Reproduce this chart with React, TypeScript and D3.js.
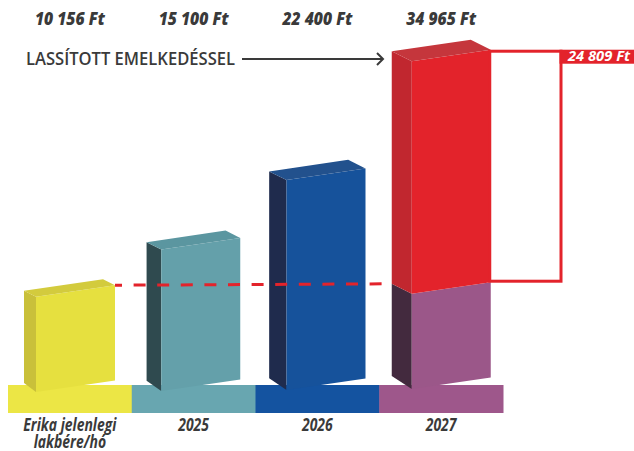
import React from "react";
import * as d3 from "d3";

const categoryKeys = ["current", "2025", "2026", "2027"];
const categoryLines = [["Erika jelenlegi", "lakbére/hó"], ["2025"], ["2026"], ["2027"]];
const values = [10156, 15100, 22400, 34965];
const valueLabels = ["10 156 Ft", "15 100 Ft", "22 400 Ft", "34 965 Ft"];
const increaseValue = 24809;
const increaseLabel = "24 809 Ft";
const annotation = "LASSÍTOTT EMELKEDÉSSEL";

const frontColors = ["#e6e03f", "#64a0aa", "#16529b", "#e3232b"];
const sideColors = ["#c9c03a", "#2f4a4f", "#1f2b4d", "#c1272f"];
const topColors = ["#d3cb3d", "#5b96a0", "#22518d", "#c5363c"];
const bandColors = ["#ece645", "#68a6b0", "#1453a0", "#9e578b"];
const baseFront = "#9b5789";
const baseSide = "#432a3e";
const red = "#e3232b";
const textColor = "#3a3a3a";

const W = 634;
const H = 451;

export default function App() {
  const x = d3.scaleBand<string>().domain(categoryKeys).range([8, 503]).padding(0);
  const h = d3.scaleLinear().domain([0, 35000]).range([0, 328]);
  const frontW = 79;
  const slope = -0.147;
  const bandTop = 385;
  const bandBottom = 413;

  const bars = values.map((v, i) => {
    const x0 = (x(categoryKeys[i]) as number) + 28 + i * 1.5;
    const yBL = 392 - i;
    const yBR = yBL + slope * frontW;
    const hv = h(v);
    const dx = 12 + (i * 8) / 3;
    const dy = 6 + (i * 4) / 3;
    const dyb = dy + 3;
    return { x0, yBL, yBR, hv, dx, dy, dyb, i };
  });

  const pts = (a: number[][]) => a.map((p) => p.join(",")).join(" ");

  const drawBar = (b: any) => {
    const { x0, yBL, yBR, hv, dx, dy, dyb, i } = b;
    const x1 = x0 + frontW;
    const yTL = yBL - hv;
    const yTR = yBR - hv;
    const els: any[] = [];
    if (i === 3) {
      const hb = h(values[0]);
      const mL = yBL - hb;
      const mR = yBR - hb;
      els.push(<polygon key="sb" points={pts([[x0, mL], [x0 - dx, mL - dy], [x0 - dx, yBL - dyb], [x0, yBL]])} fill={baseSide} />);
      els.push(<polygon key="fb" points={pts([[x0, mL], [x1, mR], [x1, yBR], [x0, yBL]])} fill={baseFront} />);
      els.push(<polygon key="su" points={pts([[x0, yTL], [x0 - dx, yTL - dy], [x0 - dx, mL - dy], [x0, mL]])} fill={sideColors[i]} />);
      els.push(<polygon key="fu" points={pts([[x0, yTL], [x1, yTR], [x1, mR], [x0, mL]])} fill={frontColors[i]} />);
    } else {
      els.push(<polygon key="s" points={pts([[x0, yTL], [x0 - dx, yTL - dy], [x0 - dx, yBL - dyb], [x0, yBL]])} fill={sideColors[i]} />);
      els.push(<polygon key="f" points={pts([[x0, yTL], [x1, yTR], [x1, yBR], [x0, yBL]])} fill={frontColors[i]} />);
    }
    els.push(<polygon key="t" points={pts([[x0, yTL], [x1, yTR], [x1 - dx, yTR - dy], [x0 - dx, yTL - dy]])} fill={topColors[i]} />);
    return <g key={"bar" + i}>{els}</g>;
  };

  const b0 = bars[0];
  const b3 = bars[3];
  const dashStart = [b0.x0 + frontW, b0.yBR - b0.hv];
  const dashEnd = [b3.x0 - b3.dx, b3.yBL - h(values[0]) - b3.dy];

  const boxLeft = b3.x0 + frontW;
  const boxTop = b3.yBR - b3.hv;
  const boxBottom = boxTop + h(increaseValue);
  const boxRight = 561;

  const font = "'Open Sans', sans-serif";

  return (
    <svg width={W} height={H} style={{ position: "fixed", left: 0, top: 0, background: "#fff" }}>
      {categoryKeys.map((k, i) => (
        <rect key={k} x={x(k)} y={bandTop} width={x.bandwidth() + 0.5} height={bandBottom - bandTop} fill={bandColors[i]} />
      ))}
      {bars.slice(0, 3).map(drawBar)}
      <line
        x1={dashStart[0]} y1={dashStart[1]} x2={dashEnd[0]} y2={dashEnd[1]}
        stroke={red} strokeWidth={3} strokeDasharray="12 11.6" strokeDashoffset={5}
      />
      {drawBar(bars[3])}
      <rect x={boxLeft - 1} y={boxTop + 1.5} width={boxRight - boxLeft + 1} height={boxBottom - boxTop - 2.5} fill="none" stroke={red} strokeWidth={3} />
      <rect x={boxRight - 1.5} y={boxTop} width={W - boxRight + 1.5} height={14} fill={red} />
      <text x={630} y={boxTop + 11.5} textAnchor="end" fill="#fff" fontFamily={font} fontWeight={700} fontStyle="italic" fontSize={13.5} textLength={62} lengthAdjust="spacingAndGlyphs">
        {increaseLabel}
      </text>
      {valueLabels.map((t, i) => {
        const cx = (x(categoryKeys[i]) as number) + x.bandwidth() / 2;
        return (
          <text key={t} x={cx} y={25} textAnchor="middle" fill={textColor} fontFamily={font} fontWeight={800} fontStyle="italic" fontSize={17.5} textLength={70} lengthAdjust="spacingAndGlyphs">
            {t}
          </text>
        );
      })}
      <text x={26} y={65} fill={textColor} fontFamily={font} fontWeight={600} fontSize={17.5} textLength={209} lengthAdjust="spacingAndGlyphs">
        {annotation}
      </text>
      <line x1={242} y1={59} x2={382} y2={59} stroke={textColor} strokeWidth={2} />
      <polyline points="377,53 383,59 377,65" fill="none" stroke={textColor} strokeWidth={2} />
      {categoryLines.map((lines, i) => {
        const cx = (x(categoryKeys[i]) as number) + x.bandwidth() / 2;
        return (
          <g key={"c" + i} transform={`translate(${cx},0) scale(0.82,1)`}>
            {lines.map((ln, j) => (
              <text key={ln} x={0} y={431 + j * 17} textAnchor="middle" fill={textColor} fontFamily={font} fontWeight={700} fontStyle="italic" fontSize={17}>
                {ln}
              </text>
            ))}
          </g>
        );
      })}
    </svg>
  );
}
